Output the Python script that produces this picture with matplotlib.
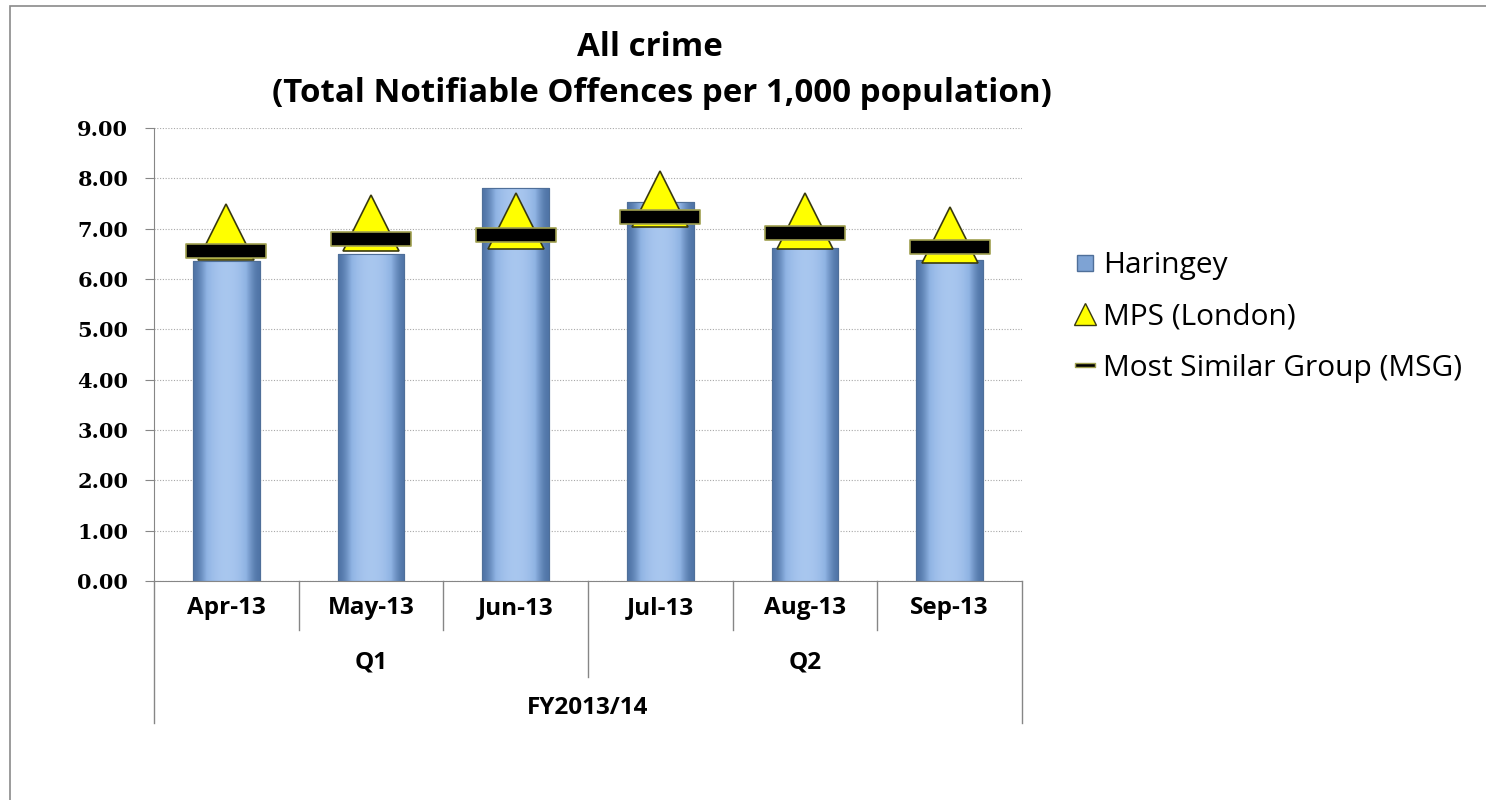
import numpy as np
import matplotlib
matplotlib.use('Agg')
import matplotlib.pyplot as plt
from matplotlib.path import Path
from matplotlib.patches import Rectangle
from matplotlib.lines import Line2D
import matplotlib.transforms as mtransforms

months = ['Apr-13', 'May-13', 'Jun-13', 'Jul-13', 'Aug-13', 'Sep-13']
quarters = ['Q1', 'Q2']
year = 'FY2013/14'
haringey = [6.35, 6.49, 7.80, 7.53, 6.61, 6.37]
mps = [6.93, 7.12, 7.15, 7.58, 7.16, 6.87]
msg = [6.55, 6.79, 6.87, 7.23, 6.91, 6.63]

plt.rcParams['font.family'] = ['Open Sans', 'DejaVu Sans']

fig = plt.figure(figsize=(14.86, 8), dpi=100)
ax = fig.add_axes([0.1036, 0.27375, 0.5841, 0.56625])

# outer chart frame
fig.add_artist(Rectangle((10 / 1486, -0.05), 1.05, 0.9925 + 0.05, transform=fig.transFigure,
                         fill=False, edgecolor='#8a8a8a', linewidth=1.2))

x = np.arange(len(months))
bars = ax.bar(x, haringey, width=0.46, color='#8DB3E2', edgecolor='#5a7ea8', linewidth=0.8, zorder=2)

# shade each bar with a left-right gradient
grad = np.array([[0.0, 0.35, 0.75, 0.95, 1.0, 0.95, 0.75, 0.35, 0.0]])
cmap = matplotlib.colors.LinearSegmentedColormap.from_list('bar', ['#4f74a6', '#8fb3e3', '#a9c7ef'])
for b in bars:
    x0, w, h = b.get_x(), b.get_width(), b.get_height()
    im = ax.imshow(np.repeat(grad, 2, axis=0), cmap=cmap, aspect='auto',
                   extent=(x0, x0 + w, 0, h), zorder=2.5, interpolation='bicubic')
    im.set_clip_path(b)
    ax.add_patch(Rectangle((x0, 0), w, h, fill=False, edgecolor='#4f6f99', linewidth=0.8, zorder=2.6))

ax.plot(x, mps, linestyle='none', marker='^', markersize=41, markerfacecolor='#FFFF00',
        markeredgecolor='#3a3a10', markeredgewidth=1.2, zorder=3)

bar_marker = Path([(-1, -0.18), (1, -0.18), (1, 0.18), (-1, 0.18), (-1, -0.18)],
                  [Path.MOVETO, Path.LINETO, Path.LINETO, Path.LINETO, Path.CLOSEPOLY])
ax.plot(x, msg, linestyle='none', marker=bar_marker, markersize=58, markerfacecolor='black',
        markeredgecolor='#a0a050', markeredgewidth=1.2, zorder=4)

ax.set_xlim(-0.5, 5.5)
ax.set_ylim(0, 9)
ax.set_yticks(np.arange(0, 9.5, 1))
ax.set_yticklabels([f'{v:.2f}' for v in np.arange(0, 9.5, 1)], fontsize=15,
                   fontweight='bold', family='DejaVu Serif')
ax.yaxis.grid(True, linestyle=(0, (1, 1.5)), color='#a8a8a8', linewidth=0.8)
ax.set_axisbelow(True)
ax.tick_params(axis='y', length=6.5, color='#868686', pad=12)
ax.set_xticks(x)
ax.set_xticklabels(months, fontsize=17.5, fontweight='bold')
ax.tick_params(axis='x', length=0, pad=11)
for s in ['top', 'right']:
    ax.spines[s].set_visible(False)
for s in ['left', 'bottom']:
    ax.spines[s].set_color('#868686')

# multi-level category axis
trans = mtransforms.blended_transform_factory(ax.transData, ax.transAxes)
for xs in [0.5, 1.5, 3.5, 4.5]:
    ax.plot([xs, xs], [0, -0.109], color='#868686', linewidth=1, transform=trans, clip_on=False)
ax.plot([2.5, 2.5], [0, -0.213], color='#868686', linewidth=1, transform=trans, clip_on=False)
for xs in [-0.5, 5.5]:
    ax.plot([xs, xs], [0, -0.313], color='#868686', linewidth=1, transform=trans, clip_on=False)
for i, q in enumerate(quarters):
    ax.text(1 + 3 * i, -0.18, q, transform=trans, ha='center', va='center', fontsize=17.5, fontweight='bold')
ax.text(2.5, -0.28, year, transform=trans, ha='center', va='center', fontsize=17.5, fontweight='bold')

fig.text(650 / 1486, 1 - 47 / 800, 'All crime', ha='center', va='center', fontsize=23.8, fontweight='bold')
fig.text(662 / 1486, 1 - 93 / 800, '(Total Notifiable Offences per 1,000 population)',
         ha='center', va='center', fontsize=23.8, fontweight='bold')

handles = [
    Line2D([], [], linestyle='none', marker='s', markersize=11, markerfacecolor='#7ea3d4',
           markeredgecolor='#4f6f99'),
    Line2D([], [], linestyle='none', marker='^', markersize=16, markerfacecolor='#FFFF00',
           markeredgecolor='#3a3a10'),
    Line2D([], [], linestyle='none', marker=bar_marker, markersize=14, markerfacecolor='black',
           markeredgecolor='#a0a050'),
]
fig.legend(handles, ['Haringey', 'MPS (London)', 'Most Similar Group (MSG)'],
           loc='center left', bbox_to_anchor=(1072 / 1486, 1 - 317 / 800), frameon=False,
           fontsize=21.5, labelspacing=0.75, handletextpad=0.15, handlelength=0.9,
           borderpad=0, borderaxespad=0)

fig.savefig('out.png', dpi=100)
